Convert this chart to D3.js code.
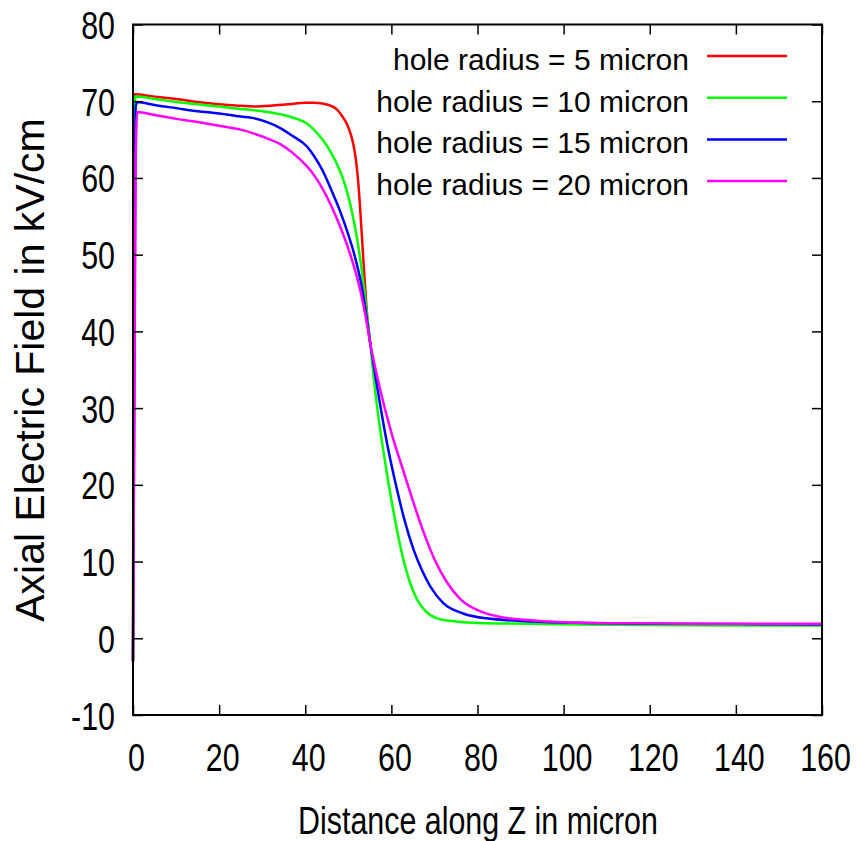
<!DOCTYPE html>
<html>
<head>
  <meta charset="utf-8">
  <title>Axial Electric Field</title>
  <style>
    body { margin: 0; background: #fff; }
    svg { display: block; }
  </style>
</head>
<body>

<svg width="856" height="841" viewBox="0 0 856 841"></svg>

<script src="https://d3js.org/d3.v7.min.js"></script>
<script>
// hole radius series, [z (micron), E (kV/cm)]
const seriesNames = [
  'hole radius = 5 micron',
  'hole radius = 10 micron',
  'hole radius = 15 micron',
  'hole radius = 20 micron'
];
const seriesColors = [ '#ff0000', '#00ff00', '#0000ff', '#ff00ff' ];

const r5 = [
  [0, -3], [0.3, 70.9], [5, 70.6], [10, 70.3], [15, 69.9], [20, 69.6], [25, 69.4],
  [28, 69.3], [32, 69.4], [36, 69.6], [40, 69.8], [42, 69.8], [44, 69.7], [46, 69.4],
  [47.4, 68.9], [48.5, 68.1], [49.7, 67.0], [50.5, 65.8], [51.2, 64.3], [51.8, 62.2],
  [52.4, 58.8], [53.2, 52], [53.9, 45.8], [54.5, 41.2], [55.1, 38.4]
];
const r10 = [
  [0, -3], [0.5, 70.6], [5, 70.3], [10, 69.9], [15, 69.6], [20, 69.3], [25, 69.0],
  [30, 68.7], [35, 68.2], [38, 67.7], [40.4, 67.1], [42, 66.3], [44, 65.0],
  [46, 63.3], [48, 61.0], [49, 59.5], [50, 57.6], [51, 55.2], [52, 52.2], [53, 48.5],
  [54, 43.9], [55.1, 38.4], [56, 33.5], [57, 28.8], [58.2, 24.2], [59.3, 20.3],
  [60.5, 16.5], [61.7, 13.0], [62.9, 10.0], [64.3, 7.3], [66, 5.0], [68, 3.5],
  [70.6, 2.6], [75, 2.2], [80, 2.0], [92.3, 1.9], [110, 1.75], [130, 1.7], [160, 1.65]
];
const r15 = [
  [0, -3], [0.6, 69.2], [1, 69.9], [5, 69.5], [10, 69.1], [15, 68.7], [20, 68.4],
  [25, 68.0], [28, 67.8], [31, 67.3], [34.2, 66.5], [37, 65.5], [40.4, 64.1],
  [42, 62.9], [44, 61.0], [46, 58.5], [48, 55.8], [50, 52.6], [51, 50.8], [52, 48.7],
  [53, 46.2], [54, 42.8], [55.1, 38.4], [56, 35.2], [57.4, 30.4], [59, 25.4],
  [61.3, 19.4], [63, 15.5], [65.2, 11.5], [67, 9.0], [69.1, 6.7], [72, 4.6],
  [76.8, 3.2], [82, 2.6], [92.3, 2.2], [105, 2.0], [120, 1.9], [140, 1.85], [160, 1.8]
];
const r20 = [
  [0, -3], [0.6, 62], [1, 68.6], [5, 68.2], [10, 67.7], [15, 67.3], [20, 66.8],
  [25, 66.3], [30, 65.4], [34.2, 64.4], [37, 63.3], [40.4, 61.5], [42, 60.4],
  [44, 58.6], [46, 56.4], [48, 53.8], [50, 50.8], [52, 47.1], [53, 44.8], [54, 42.0],
  [55.1, 38.4], [56, 35.9], [57.4, 32.4], [60, 26.8], [62.9, 21.6], [65, 17.9],
  [67.5, 13.8], [70, 10.3], [72.9, 7.3], [76, 5.1], [80.7, 3.5], [86, 2.7],
  [92.3, 2.35], [100, 2.1], [115, 1.95], [130, 1.9], [160, 1.88]
];
const seriesData = [ r5, r10, r15, r20 ];

const xTicks = [0, 20, 40, 60, 80, 100, 120, 140, 160];
const yTicks = [-10, 0, 10, 20, 30, 40, 50, 60, 70, 80];

function main () {
  const svg = d3.select('svg');
  const left = 133, right = 822, top = 24.5, bottom = 715;
  const font = '"Liberation Sans", Arial, Helvetica, sans-serif';
  const squeeze = 0.8; // gnuplot-ish narrow tick font

  const x = d3.scaleLinear().domain([0, 160]).range([left, right]);
  const y = d3.scaleLinear().domain([-10, 80]).range([bottom, top]);

  // curves
  const line = d3.line()
    .x(d => x(d[0]))
    .y(d => y(d[1]))
    .curve(d3.curveMonotoneX);

  svg.append('g')
    .selectAll('path')
    .data(seriesData)
    .join('path')
      .attr('d', line)
      .attr('fill', 'none')
      .attr('stroke', (d, i) => seriesColors[i])
      .attr('stroke-width', 2.5)
      .attr('stroke-linejoin', 'round');

  // axes, ticks pointing inwards on all four sides
  const plain = d => String(d); // keep the hyphen in "-10"
  const gx = svg.append('g')
    .attr('transform', `translate(0,${bottom})`)
    .call(d3.axisBottom(x).tickValues(xTicks).tickFormat(plain).tickSizeInner(-10).tickSizeOuter(0));
  const gxTop = svg.append('g')
    .attr('transform', `translate(0,${top})`)
    .call(d3.axisTop(x).tickValues(xTicks).tickSizeInner(-10).tickSizeOuter(0).tickFormat(''));
  const gy = svg.append('g')
    .attr('transform', `translate(${left},0)`)
    .call(d3.axisLeft(y).tickValues(yTicks).tickFormat(plain).tickSizeInner(-10).tickSizeOuter(0));
  const gyRight = svg.append('g')
    .attr('transform', `translate(${right},0)`)
    .call(d3.axisRight(y).tickValues(yTicks).tickSizeInner(-10).tickSizeOuter(0).tickFormat(''));

  [gx, gxTop, gy, gyRight].forEach(g => {
    g.select('.domain').remove();
    g.selectAll('line').attr('stroke', '#000').attr('stroke-width', 1.5);
  });

  gx.selectAll('text')
    .attr('font-family', font)
    .attr('font-size', '38px')
    .attr('fill', '#000')
    .attr('dy', 0)
    .attr('y', 56)
    .attr('x', 3 / squeeze)
    .attr('transform', `scale(${squeeze},1)`);

  gy.selectAll('text')
    .attr('font-family', font)
    .attr('font-size', '38px')
    .attr('fill', '#000')
    .attr('dy', 0)
    .attr('y', 14)
    .attr('x', -18 / squeeze)
    .attr('transform', `scale(${squeeze},1)`);

  // frame
  svg.append('rect')
    .attr('x', left)
    .attr('y', top)
    .attr('width', right - left)
    .attr('height', bottom - top)
    .attr('fill', 'none')
    .attr('stroke', '#000')
    .attr('stroke-width', 2);

  // axis titles
  svg.append('text')
    .attr('transform', `translate(478,834) scale(${squeeze},1)`)
    .attr('text-anchor', 'middle')
    .attr('font-family', font)
    .attr('font-size', '38px')
    .text('Distance along Z in micron');

  svg.append('text')
    .attr('transform', 'translate(44,370) rotate(-90)')
    .attr('text-anchor', 'middle')
    .attr('font-family', font)
    .attr('font-size', '41px')
    .text('Axial Electric Field in kV/cm');

  // legend
  const rows = svg.append('g').selectAll('g')
    .data(seriesNames)
    .join('g')
      .attr('transform', (d, i) => `translate(0,${56 + i * 41.7})`);
  rows.append('text')
    .attr('x', 689)
    .attr('y', 14)
    .attr('text-anchor', 'end')
    .attr('font-family', font)
    .attr('font-size', '30px')
    .text(d => d);
  rows.append('line')
    .attr('x1', 707)
    .attr('x2', 787)
    .attr('stroke', (d, i) => seriesColors[i])
    .attr('stroke-width', 2.5);
}
main();
</script>

</body>
</html>
